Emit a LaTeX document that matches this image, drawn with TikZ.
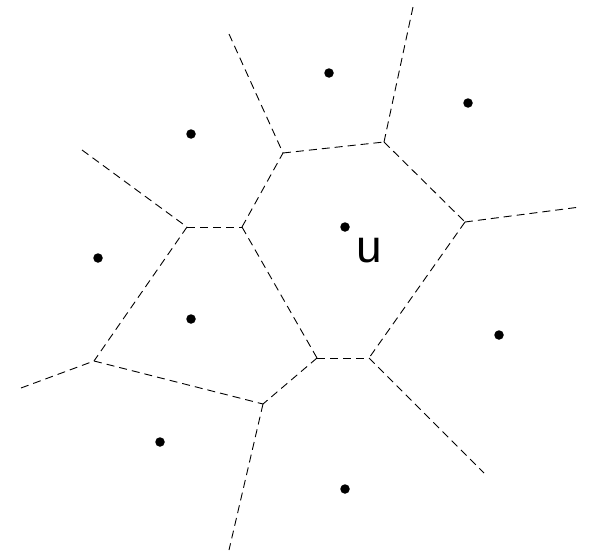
\documentclass[tikz,border=0pt]{standalone}
\usepackage{fontspec}
\setmainfont{Liberation Sans}
\begin{document}
\begin{tikzpicture}[x=1pt,y=-1pt,
  edge/.style={draw=black, line width=0.9pt, dash pattern=on 8pt off 5pt},
  site/.style={circle, fill=black, inner sep=0pt, minimum size=9.5pt}]
\useasboundingbox (0,0) rectangle (591,551);
% Voronoi vertices
\coordinate (A) at (283,153);
\coordinate (B) at (384,142);
\coordinate (C) at (465,222);
\coordinate (D) at (369,358);
\coordinate (E) at (317,358);
\coordinate (F) at (242,227);
\coordinate (G) at (187,227);
\coordinate (H) at (94,361);
\coordinate (I) at (263,404);
% open ends
\coordinate (a1) at (229,34);
\coordinate (b1) at (413,7);
\coordinate (c1) at (580,207);
\coordinate (d1) at (484,473);
\coordinate (g1) at (82,150);
\coordinate (h1) at (21,388);
\coordinate (i1) at (229,550);
% edges
\draw[edge] (a1) -- (A);
\draw[edge] (A) -- (B);
\draw[edge] (B) -- (b1);
\draw[edge] (B) -- (C);
\draw[edge] (C) -- (c1);
\draw[edge] (C) -- (D);
\draw[edge] (D) -- (d1);
\draw[edge] (E) -- (D);
\draw[edge] (E) -- (I);
\draw[edge] (F) -- (E);
\draw[edge] (F) -- (A);
\draw[edge] (G) -- (F);
\draw[edge] (g1) -- (G);
\draw[edge] (G) -- (H);
\draw[edge] (h1) -- (H);
\draw[edge] (H) -- (I);
\draw[edge] (I) -- (i1);
% sites
\node[site] (s1) at (329,73) {};
\node[site] (s2) at (468,103) {};
\node[site] (s3) at (191,134) {};
\node[site] (u) at (345,227) {};
\node[site] (s5) at (98,258) {};
\node[site] (s6) at (191,319) {};
\node[site] (s7) at (499,335) {};
\node[site] (s8) at (160,442) {};
\node[site] (s9) at (345,489) {};
\node[inner sep=0pt, font=\fontsize{46}{50}\selectfont] (ulabel) at (369,251) {u};
\end{tikzpicture}
\end{document}
